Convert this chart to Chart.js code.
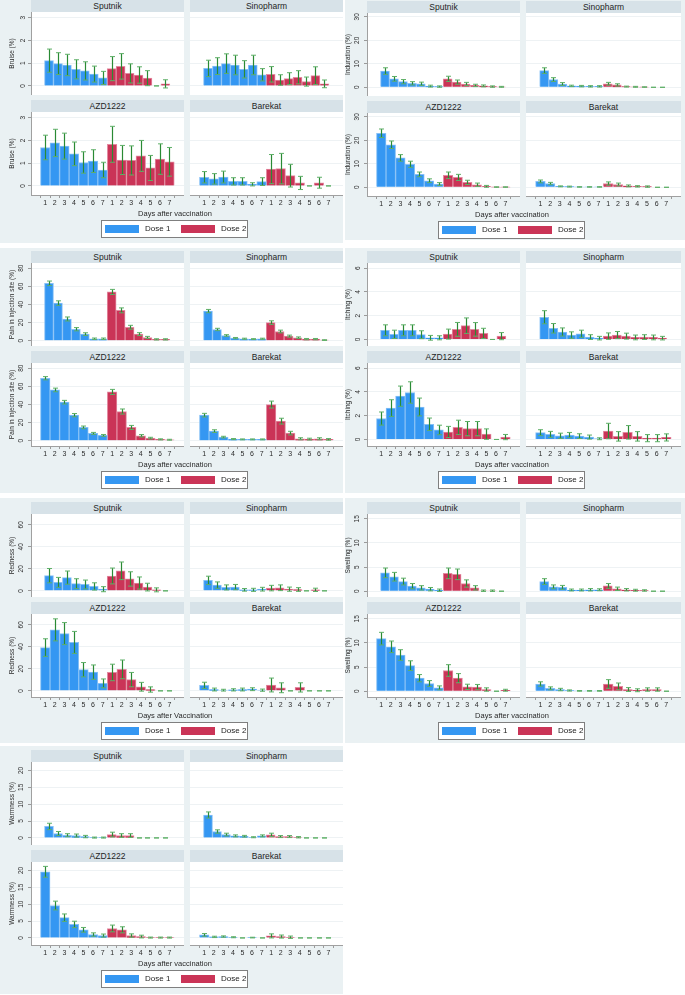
<!DOCTYPE html>
<html><head><meta charset="utf-8">
<script src="https://cdn.jsdelivr.net/npm/chart.js@4.4.1/dist/chart.umd.min.js"></script>
<style>
html,body{margin:0;padding:0;background:#fff;}
#root{position:relative;width:685px;height:995px;overflow:hidden;font-family:'Liberation Sans',Arial,sans-serif;}
.bg{position:absolute;background:#eaf1f3;}
.strip{position:absolute;background:#d7e2e8;color:#1e1e1e;font-size:8.5px;text-align:center;line-height:12px;height:12px;}
canvas{position:absolute;}
.xt{position:absolute;font-size:7.5px;color:#2a2a2a;text-align:center;width:200px;line-height:9px;}
.leg{position:absolute;width:145px;height:16px;border:1px solid #7f7f7f;background:#fff;}
.key{position:absolute;top:4px;width:34px;height:8px;}
.lt{position:absolute;top:2px;font-size:8px;line-height:11px;color:#222;}
</style></head><body><div id="root"></div>
<script>
// ---------- labels ----------
const days = [1, 2, 3, 4, 5, 6, 7];
const doses = ['Dose 1', 'Dose 2'];
const vaccines = ['Sputnik', 'Sinopharm', 'AZD1222', 'Barekat'];

// ---------- Bruise (%) ----------
const bruiseTicks = [0, 1, 2, 3];
const bruiseSputnik     = [1.11,0.98,0.92,0.73,0.66,0.52,0.35, 0.76,0.86,0.55,0.48,0.34,0,0.09];
const bruiseSputnikCI   = [0.51,0.48,0.47,0.42,0.40,0.35,0.29, 0.53,0.56,0.42,0.36,0.33,0,0.18];
const bruiseSinopharm   = [0.77,0.87,0.98,0.92,0.73,0.92,0.49, 0.51,0.26,0.32,0.38,0.19,0.45,0.09];
const bruiseSinopharmCI = [0.36,0.37,0.43,0.43,0.38,0.43,0.27, 0.34,0.23,0.26,0.29,0.20,0.39,0.17];
const bruiseAZD         = [1.69,1.89,1.75,1.41,1.03,1.09,0.70, 1.83,1.14,1.12,1.32,0.79,1.18,1.06];
const bruiseAZDCI       = [0.54,0.60,0.57,0.52,0.47,0.50,0.34, 0.79,0.64,0.64,0.68,0.55,0.67,0.63];
const bruiseBarekat     = [0.38,0.31,0.39,0.20,0.20,0.07,0.19, 0.74,0.76,0.45,0.13,0,0.14,0];
const bruiseBarekatCI   = [0.25,0.23,0.26,0.16,0.16,0.07,0.17, 0.64,0.67,0.50,0.29,0,0.24,0];

// ---------- Induration (%) ----------
const indurationTicks = [0, 10, 20, 30];
const indurationSputnik     = [6.9,3.6,2.4,1.7,1.5,0.5,0.3, 3.6,2.2,1.4,0.8,0.6,0.3,0.2];
const indurationSputnikCI   = [1.4,1.0,0.9,0.7,0.7,0.4,0.3, 1.1,0.9,0.7,0.5,0.4,0.3,0.2];
const indurationSinopharm   = [7.1,3.3,1.4,0.6,0.5,0.4,0.4, 1.5,1.0,0.3,0.2,0.1,0,0];
const indurationSinopharmCI = [1.2,0.8,0.6,0.3,0.3,0.3,0.3, 0.6,0.5,0.2,0.2,0.1,0,0];
const indurationAZD         = [23.0,18.1,12.5,9.8,5.5,2.8,1.4, 5.1,4.2,2.1,1.1,0.4,0.1,0.1];
const indurationAZDCI       = [1.8,1.6,1.4,1.3,1.0,0.8,0.6, 1.4,1.3,0.9,0.7,0.4,0.1,0.1];
const indurationBarekat     = [2.5,1.6,0.4,0.3,0.15,0.15,0.15, 1.6,1.2,0.6,0.4,0.3,0,0];
const indurationBarekatCI   = [0.6,0.5,0.2,0.2,0.1,0.1,0.1, 0.7,0.6,0.4,0.3,0.3,0,0];

// ---------- Pain in injection site (%) ----------
const painTicks = [0, 20, 40, 60, 80];
const painSputnik     = [63.3,41.5,24.0,12.7,7.3,2.2,2.2, 53.8,33.5,14.9,7.3,3.6,1.5,1.5];
const painSputnikCI   = [2.5,2.5,2.2,1.8,1.5,0.8,0.8, 2.8,2.7,2.1,1.6,1.2,0.7,0.7];
const painSinopharm   = [32.7,12.4,5.8,2.9,2.2,1.8,2.2, 20.0,10.2,5.1,3.3,1.8,1.8,0.7];
const painSinopharmCI = [1.8,1.3,0.9,0.7,0.6,0.5,0.6, 2.0,1.5,1.1,0.9,0.7,0.7,0.4];
const painAZD         = [68.9,56.0,42.5,28.2,14.7,8.1,5.9, 53.8,32.2,14.7,5.5,2.9,1.5,1.1];
const painAZDCI       = [1.8,2.0,2.0,1.8,1.5,1.1,1.0, 2.8,2.8,2.2,1.3,0.9,0.6,0.5];
const painBarekat     = [28.2,10.6,4.0,1.8,1.5,1.5,1.5, 39.9,21.6,8.4,2.2,1.8,2.2,1.5];
const painBarekatCI   = [2.0,1.5,0.9,0.6,0.5,0.5,0.5, 3.8,3.2,2.0,1.1,1.0,1.1,0.9];

// ---------- Itching (%) ----------
const itchingTicks = [0, 2, 4, 6];
const itchingSputnik     = [0.77,0.43,0.77,0.77,0.40,0.14,0.14, 0.45,0.85,1.16,0.85,0.51,0,0.28];
const itchingSputnikCI   = [0.46,0.35,0.46,0.46,0.33,0.20,0.17, 0.42,0.58,0.65,0.57,0.43,0,0.30];
const itchingSinopharm   = [1.87,0.94,0.63,0.37,0.48,0.20,0.11, 0.28,0.37,0.28,0.17,0.20,0.17,0.11];
const itchingSinopharmCI = [0.55,0.40,0.34,0.27,0.30,0.20,0.15, 0.27,0.30,0.25,0.20,0.20,0.20,0.15];
const itchingAZD         = [1.76,2.64,3.64,3.95,2.73,1.28,0.80, 0.63,1.02,0.91,0.91,0.45,0,0.20];
const itchingAZDCI       = [0.55,0.70,0.85,0.90,0.75,0.52,0.40, 0.47,0.60,0.60,0.60,0.44,0,0.22];
const itchingBarekat     = [0.57,0.43,0.31,0.37,0.28,0.20,0.06, 0.71,0.26,0.60,0.26,0.11,0.11,0.17];
const itchingBarekatCI   = [0.25,0.25,0.22,0.22,0.20,0.17,0.08, 0.65,0.40,0.57,0.40,0.30,0.30,0.30];

// ---------- Redness (%) ----------
const rednessTicks = [0, 20, 40, 60];
const rednessSputnik     = [13.8,7.7,12.0,6.5,5.8,4.0,1.5, 13.5,18.2,10.8,7.1,3.4,0.9,0];
const rednessSputnikCI   = [6.5,4.5,6.0,4.5,4.0,3.3,2.3, 7.2,8.0,6.5,5.5,3.5,1.8,0];
const rednessSinopharm   = [9.5,5.2,3.1,3.4,0.9,0.9,1.5, 2.5,2.8,1.5,1.2,0,0.9,0];
const rednessSinopharmCI = [3.8,2.9,2.3,2.4,1.2,1.4,1.7, 2.5,2.6,1.9,1.7,0,1.5,0];
const rednessAZD         = [39.3,55.4,52.0,44.0,19.2,17.0,6.8, 16.7,19.5,10.2,3.7,1.2,0,0];
const rednessAZDCI       = [8.0,10.0,10.0,10.0,6.5,6.5,4.0, 7.5,8.5,6.5,4.0,2.4,0,0];
const rednessBarekat     = [5.0,1.2,0.6,0.9,1.2,1.5,0.6, 5.3,2.8,0,3.1,0,0,0];
const rednessBarekatCI   = [2.8,1.3,0.8,1.0,1.3,1.3,1.0, 6.3,4.5,0,4.2,0,0,0];

// ---------- Swelling (%) ----------
const swellingTicks = [0, 5, 10, 15];
const swellingSputnik     = [3.8,3.0,2.0,1.05,0.7,0.42,0.2, 3.7,3.5,1.6,0.7,0.1,0.1,0];
const swellingSputnikCI   = [1.0,0.9,0.7,0.55,0.45,0.35,0.25, 1.1,1.1,0.75,0.45,0.15,0.15,0];
const swellingSinopharm   = [2.0,0.9,0.8,0.25,0.25,0.3,0.3, 1.1,0.5,0.3,0.2,0.15,0,0];
const swellingSinopharmCI = [0.6,0.4,0.4,0.2,0.2,0.25,0.2, 0.5,0.35,0.25,0.2,0.15,0,0];
const swellingAZD         = [10.9,9.2,7.5,5.3,2.7,1.6,0.7, 4.3,2.7,0.9,0.85,0.35,0,0.2];
const swellingAZDCI       = [1.3,1.2,1.1,1.0,0.75,0.6,0.4, 1.2,0.95,0.55,0.55,0.35,0,0.2];
const swellingBarekat     = [1.5,0.6,0.35,0.15,0.07,0.07,0.07, 1.5,1.0,0.35,0.2,0.35,0.35,0];
const swellingBarekatCI   = [0.45,0.3,0.25,0.12,0.07,0.07,0.07, 0.9,0.7,0.4,0.3,0.35,0.35,0];

// ---------- Warmness (%) ----------
const warmnessTicks = [0, 5, 10, 15, 20];
const warmnessSputnik     = [3.4,1.3,0.8,0.7,0.4,0.1,0.1, 1.0,0.7,0.7,0,0,0,0];
const warmnessSputnikCI   = [0.95,0.6,0.45,0.45,0.35,0.15,0.15, 0.7,0.55,0.55,0,0,0,0];
const warmnessSinopharm   = [6.8,1.9,1.0,0.6,0.5,0.2,0.6, 0.9,0.4,0.4,0.2,0,0,0];
const warmnessSinopharmCI = [0.9,0.5,0.4,0.3,0.25,0.15,0.3, 0.5,0.3,0.3,0.2,0,0,0];
const warmnessAZD         = [19.6,9.6,6.0,4.0,2.4,1.0,0.7, 2.8,2.4,0.7,0.4,0.1,0.1,0.1];
const warmnessAZDCI       = [1.6,1.3,1.1,0.95,0.7,0.5,0.45, 1.0,0.9,0.5,0.4,0.15,0.15,0.15];
const warmnessBarekat     = [0.9,0.3,0.4,0.2,0,0.1,0, 0.6,0.4,0.2,0,0,0,0];
const warmnessBarekatCI   = [0.4,0.2,0.2,0.15,0,0.1,0, 0.6,0.45,0.35,0,0,0,0];

// ---------- panel definitions (built from the arrays above) ----------
const panels = [
  {title:'Bruise (%)', xTitle:'Days after vaccination', ticks:bruiseTicks, yMin:-0.4, yMax:3.25,
   vals:[bruiseSputnik,bruiseSinopharm,bruiseAZD,bruiseBarekat], ci:[bruiseSputnikCI,bruiseSinopharmCI,bruiseAZDCI,bruiseBarekatCI]},
  {title:'Induration (%)', xTitle:'Days after vaccination', ticks:indurationTicks, yMin:-3.7, yMax:31.6,
   vals:[indurationSputnik,indurationSinopharm,indurationAZD,indurationBarekat], ci:[indurationSputnikCI,indurationSinopharmCI,indurationAZDCI,indurationBarekatCI]},
  {title:'Pain in injection site (%)', xTitle:'Days after vaccination', ticks:painTicks, yMin:-5.8, yMax:85.7,
   vals:[painSputnik,painSinopharm,painAZD,painBarekat], ci:[painSputnikCI,painSinopharmCI,painAZDCI,painBarekatCI]},
  {title:'Itching (%)', xTitle:'Days after vaccination', ticks:itchingTicks, yMin:-0.55, yMax:6.43,
   vals:[itchingSputnik,itchingSinopharm,itchingAZD,itchingBarekat], ci:[itchingSputnikCI,itchingSinopharmCI,itchingAZDCI,itchingBarekatCI]},
  {title:'Redness (%)', xTitle:'Days after Vaccination', ticks:rednessTicks, yMin:-5.6, yMax:69.8,
   vals:[rednessSputnik,rednessSinopharm,rednessAZD,rednessBarekat], ci:[rednessSputnikCI,rednessSinopharmCI,rednessAZDCI,rednessBarekatCI]},
  {title:'Swelling (%)', xTitle:'Days after vaccination', ticks:swellingTicks, yMin:-1.2, yMax:16,
   vals:[swellingSputnik,swellingSinopharm,swellingAZD,swellingBarekat], ci:[swellingSputnikCI,swellingSinopharmCI,swellingAZDCI,swellingBarekatCI]},
  {title:'Warmness (%)', xTitle:'Days after vaccination', ticks:warmnessTicks, yMin:-2.1, yMax:22.5,
   vals:[warmnessSputnik,warmnessSinopharm,warmnessAZD,warmnessBarekat], ci:[warmnessSputnikCI,warmnessSinopharmCI,warmnessAZDCI,warmnessBarekatCI]}
];

// ---------- layout (positions only) ----------
const LEFT = {axisX:0, axisW:31, c0:31, w0:153, c1:190, w1:153, legX:101, xtC:175, titlePad:8, tickPad:3};
const RIGHT = {axisX:340, axisW:27, c0:367, w0:153, c1:526, w1:155, legX:438, xtC:512, titlePad:4, tickPad:3.5};
const panelPos = [
  {side:LEFT, T:0,   bg:[0,0,343,243]},
  {side:RIGHT, T:1,  bg:[345,0,340,240]},
  {side:LEFT, T:251, bg:[0,248,343,245]},
  {side:RIGHT, T:251,bg:[345,248,340,245]},
  {side:LEFT, T:502, bg:[0,498,343,245]},
  {side:RIGHT, T:502,bg:[345,498,340,245]},
  {side:LEFT, T:750, bg:[0,746,343,248]}
];

Chart.defaults.font.family = "'Liberation Sans', Arial, sans-serif";
Chart.defaults.animation = false;

const BLUE = '#3597f2', BLUE_EDGE = '#86c0f6', RED = '#ca3457', RED_EDGE = '#e38aa0';
const xTickVals = days.concat(days.map(d => d + 7));

const plotBg = { id:'plotBg', beforeDraw(chart){ const a = chart.chartArea, ctx = chart.ctx; ctx.save(); ctx.fillStyle = '#ffffff'; ctx.fillRect(a.left, a.top, a.right - a.left, a.bottom - a.top); ctx.restore(); } };
const errBars = { id:'errBars', afterDatasetsDraw(chart){
  const ctx = chart.ctx, xs = chart.scales.x, ys = chart.scales.y;
  ctx.save();
  chart.data.datasets.forEach(ds => {
    ds.data.forEach((p, i) => {
      const e = ds.ci[i];
      const x = Math.round(xs.getPixelForValue(p.x)) + 0.5;
      const yHi = ys.getPixelForValue(p.y + e), yLo = ys.getPixelForValue(p.y - e);
      ctx.strokeStyle = '#2a8a34'; ctx.lineWidth = 1.2;
      ctx.beginPath(); ctx.moveTo(x, yLo); ctx.lineTo(x, yHi); ctx.stroke();
      ctx.strokeStyle = '#5fb068'; ctx.lineWidth = 1;
      ctx.beginPath(); ctx.moveTo(x - 2.5, yHi); ctx.lineTo(x + 2.5, yHi); ctx.moveTo(x - 2.5, yLo); ctx.lineTo(x + 2.5, yLo); ctx.stroke();
    });
  });
  ctx.restore();
}};

const root = document.getElementById('root');
function el(cls, css, text){ const d = document.createElement('div'); d.className = cls; Object.assign(d.style, css); if (text !== undefined) d.textContent = text; root.appendChild(d); return d; }

function makeChart(left, top, w, h, vals, ci, p, side, isLeftCol, isBottom){
  const c = document.createElement('canvas');
  c.width = w; c.height = h;
  Object.assign(c.style, {left:left + 'px', top:top + 'px', width:w + 'px', height:h + 'px'});
  root.appendChild(c);
  const d1 = days.map((d, i) => ({x:d, y:vals[i]}));
  const d2 = days.map((d, i) => ({x:d + 7, y:vals[i + 7]}));
  const common = {grouped:false, barPercentage:1, categoryPercentage:1, borderWidth:1, borderSkipped:'start'};
  new Chart(c, {
    type:'bar',
    data:{datasets:[
      Object.assign({label:doses[0], data:d1, ci:ci.slice(0, 7), backgroundColor:BLUE, borderColor:BLUE_EDGE}, common),
      Object.assign({label:doses[1], data:d2, ci:ci.slice(7), backgroundColor:RED, borderColor:RED_EDGE}, common)
    ]},
    options:{
      responsive:false, animation:false, layout:{padding:0},
      plugins:{legend:{display:false}, tooltip:{enabled:false}, title:{display:false}},
      scales:{
        x:{
          type:'linear', min:isBottom ? 0.08 : -0.4, max:isBottom ? 14.95 : 15.47,
          display:isBottom,
          afterBuildTicks: ax => { ax.ticks = xTickVals.map(v => ({value:v})); },
          ticks:{callback: v => String(((v - 1) % 7) + 1), font:{size:7}, color:'#2a2a2a', padding:1, autoSkip:false, maxRotation:0, minRotation:0},
          grid:{drawOnChartArea:false, drawTicks:true, tickLength:3, tickColor:'#9a9a9a'},
          border:{display:true, color:'#a0a0a0', width:1},
          afterFit: s => { s.height = isBottom ? 15 : 0; s.paddingLeft = 0; s.paddingRight = 0; }
        },
        y:{
          min:p.yMin, max:p.yMax,
          afterBuildTicks: ax => { ax.ticks = p.ticks.map(v => ({value:v})); },
          ticks:{display:isLeftCol, callback: v => String(v), font:{size:6.5}, color:'#2a2a2a', padding:side.tickPad, crossAlign:'center', minRotation:90, maxRotation:90},
          grid:{color:'#eef2f4', lineWidth:1, drawTicks:isLeftCol, tickLength:3, tickColor:'#9a9a9a'},
          border:{display:isLeftCol, color:'#a0a0a0', width:1},
          title:{display:isLeftCol, text:p.title, font:{size:6.5}, color:'#2a2a2a', padding:{top:side.titlePad, bottom:0}},
          afterFit: s => { s.width = isLeftCol ? side.axisW : 0; s.paddingTop = 0; s.paddingBottom = 0; }
        }
      }
    },
    plugins:[plotBg, errBars]
  });
}

panels.forEach((p, pi) => {
  const pos = panelPos[pi], s = pos.side, T = pos.T;
  el('bg', {left:pos.bg[0] + 'px', top:pos.bg[1] + 'px', width:pos.bg[2] + 'px', height:pos.bg[3] + 'px'});
  vaccines.forEach((v, vi) => {
    const row = Math.floor(vi / 2), col = vi % 2;
    const stripX = col === 0 ? s.c0 : s.c1, stripW = col === 0 ? s.w0 : s.w1;
    const stripY = row === 0 ? T : T + 100;
    el('strip', {left:stripX + 'px', top:stripY + 'px', width:stripW + 'px'}, v);
    const cl = col === 0 ? s.axisX : s.c1;
    const cw = col === 0 ? (s.c0 - s.axisX) + s.w0 : s.w1;
    const ch = row === 0 ? 83 : 98;
    makeChart(cl, stripY + 12, cw, ch, p.vals[vi], p.ci[vi], p, s, col === 0, row === 1);
  });
  el('xt', {left:(s.xtC - 100) + 'px', top:(T + 209) + 'px'}, p.xTitle);
  const leg = el('leg', {left:s.legX + 'px', top:(T + 220) + 'px'});
  const k1 = document.createElement('div'); k1.className = 'key'; Object.assign(k1.style, {left:'3px', background:BLUE}); leg.appendChild(k1);
  const t1 = document.createElement('div'); t1.className = 'lt'; t1.style.left = '43px'; t1.textContent = doses[0]; leg.appendChild(t1);
  const k2 = document.createElement('div'); k2.className = 'key'; Object.assign(k2.style, {left:'79px', background:RED}); leg.appendChild(k2);
  const t2 = document.createElement('div'); t2.className = 'lt'; t2.style.left = '119px'; t2.textContent = doses[1]; leg.appendChild(t2);
});
</script>
</body></html>
